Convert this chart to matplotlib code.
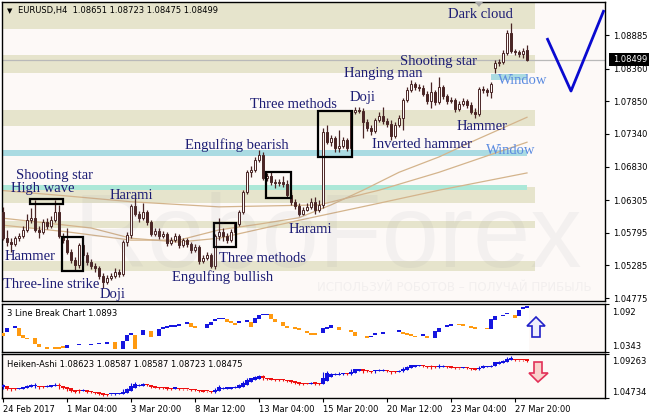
import matplotlib
matplotlib.use("Agg")
import matplotlib.pyplot as plt
from matplotlib.patches import Rectangle, Polygon
import numpy as np

# ---------------- data ----------------
bar_open = [1.0612, 1.0571, 1.0565, 1.0562, 1.0571, 1.0574, 1.0584, 1.0599, 1.0603, 1.0584,
            1.0581, 1.0596, 1.0590, 1.0599, 1.0612, 1.0574, 1.0568, 1.0549, 1.0537, 1.0529,
            1.0560, 1.0545, 1.0534, 1.0528, 1.0524, 1.0512, 1.0503, 1.0509, 1.0512, 1.0518,
            1.0515, 1.0565, 1.0576, 1.0621, 1.0609, 1.0603, 1.0612, 1.0596, 1.0578, 1.0582,
            1.0574, 1.0578, 1.0564, 1.0568, 1.0574, 1.0560, 1.0568, 1.0562, 1.0553, 1.0557,
            1.0535, 1.0540, 1.0545, 1.0528, 1.0574, 1.0581, 1.0574, 1.0568, 1.0581, 1.0593,
            1.0612, 1.0643, 1.0674, 1.0678, 1.0693, 1.0701, 1.0665, 1.0668, 1.0659, 1.0657,
            1.0659, 1.0656, 1.0639, 1.0628, 1.0621, 1.0609, 1.0615, 1.0620, 1.0628, 1.0615,
            1.0623, 1.0737, 1.0721, 1.0728, 1.0712, 1.0715, 1.0724, 1.0712, 1.0768, 1.0771,
            1.0770, 1.0753, 1.0743, 1.0739, 1.0756, 1.0762, 1.0754, 1.0749, 1.0731, 1.0748,
            1.0759, 1.0787, 1.0803, 1.0812, 1.0807, 1.0806, 1.0796, 1.0785, 1.0799, 1.0784,
            1.0807, 1.0793, 1.0785, 1.0787, 1.0773, 1.0781, 1.0785, 1.0779, 1.0768, 1.0765,
            1.0804, 1.0803, 1.0799, 1.0837, 1.0845, 1.0846, 1.0860, 1.0892, 1.0864, 1.0862,
            1.0859, 1.08651]
bar_high = [1.0620, 1.0584, 1.0571, 1.0574, 1.0579, 1.0590, 1.0609, 1.0618, 1.0631, 1.0590,
            1.0601, 1.0603, 1.0606, 1.0631, 1.0623, 1.0579, 1.0587, 1.0554, 1.0542, 1.0564,
            1.0564, 1.0549, 1.0539, 1.0532, 1.0528, 1.0517, 1.0514, 1.0517, 1.0524, 1.0523,
            1.0568, 1.0581, 1.0624, 1.0642, 1.0614, 1.0626, 1.0615, 1.0599, 1.0587, 1.0587,
            1.0582, 1.0581, 1.0573, 1.0579, 1.0578, 1.0571, 1.0571, 1.0565, 1.0562, 1.0560,
            1.0545, 1.0549, 1.0548, 1.0578, 1.0603, 1.0587, 1.0579, 1.0585, 1.0596, 1.0615,
            1.0646, 1.0678, 1.0684, 1.0698, 1.0709, 1.0706, 1.0673, 1.0674, 1.0664, 1.0664,
            1.0668, 1.0662, 1.0643, 1.0632, 1.0626, 1.0620, 1.0626, 1.0634, 1.0635, 1.0631,
            1.0743, 1.0748, 1.0732, 1.0731, 1.0740, 1.0729, 1.0728, 1.0771, 1.0776, 1.0776,
            1.0774, 1.0757, 1.0748, 1.0759, 1.0768, 1.0776, 1.0759, 1.0756, 1.0753, 1.0764,
            1.0790, 1.0807, 1.0818, 1.0815, 1.0812, 1.0810, 1.0801, 1.0815, 1.0803, 1.0823,
            1.0810, 1.0796, 1.0792, 1.0790, 1.0785, 1.0790, 1.0789, 1.0784, 1.0774, 1.0807,
            1.0809, 1.0806, 1.0815, 1.0849, 1.0851, 1.0865, 1.0896, 1.0907, 1.0867, 1.0865,
            1.0868, 1.08723]
bar_low = [1.0568, 1.0559, 1.0549, 1.0559, 1.0567, 1.0571, 1.0581, 1.0595, 1.0581, 1.0571,
           1.0578, 1.0585, 1.0587, 1.0596, 1.0571, 1.0564, 1.0546, 1.0532, 1.0521, 1.0524,
           1.0542, 1.0529, 1.0523, 1.0518, 1.0507, 1.0493, 1.0499, 1.0506, 1.0509, 1.0510,
           1.0512, 1.0559, 1.0571, 1.0606, 1.0596, 1.0599, 1.0592, 1.0574, 1.0574, 1.0570,
           1.0571, 1.0559, 1.0560, 1.0565, 1.0556, 1.0557, 1.0557, 1.0548, 1.0549, 1.0531,
           1.0532, 1.0537, 1.0524, 1.0523, 1.0568, 1.0567, 1.0564, 1.0565, 1.0578, 1.0590,
           1.0609, 1.0640, 1.0667, 1.0674, 1.0690, 1.0662, 1.0660, 1.0654, 1.0649, 1.0653,
           1.0651, 1.0635, 1.0623, 1.0617, 1.0606, 1.0607, 1.0614, 1.0617, 1.0609, 1.0612,
           1.0618, 1.0718, 1.0715, 1.0706, 1.0706, 1.0712, 1.0707, 1.0709, 1.0765, 1.0767,
           1.0728, 1.0739, 1.0732, 1.0735, 1.0753, 1.0749, 1.0745, 1.0724, 1.0728, 1.0745,
           1.0740, 1.0784, 1.0799, 1.0803, 1.0801, 1.0793, 1.0781, 1.0774, 1.0779, 1.0781,
           1.0789, 1.0781, 1.0782, 1.0768, 1.0770, 1.0778, 1.0774, 1.0765, 1.0759, 1.0762,
           1.0798, 1.0793, 1.0790, 1.0829, 1.0840, 1.0843, 1.0857, 1.0860, 1.0857, 1.0854,
           1.0853, 1.08475]
bar_close = [1.0571, 1.0565, 1.0562, 1.0571, 1.0574, 1.0584, 1.0599, 1.0603, 1.0584, 1.0581,
             1.0596, 1.0590, 1.0599, 1.0612, 1.0574, 1.0568, 1.0549, 1.0537, 1.0529, 1.0560,
             1.0545, 1.0534, 1.0528, 1.0524, 1.0512, 1.0503, 1.0509, 1.0512, 1.0518, 1.0515,
             1.0565, 1.0576, 1.0621, 1.0609, 1.0603, 1.0612, 1.0596, 1.0578, 1.0582, 1.0574,
             1.0578, 1.0564, 1.0568, 1.0574, 1.0560, 1.0568, 1.0562, 1.0553, 1.0557, 1.0535,
             1.0540, 1.0545, 1.0528, 1.0574, 1.0581, 1.0574, 1.0568, 1.0581, 1.0593, 1.0612,
             1.0643, 1.0674, 1.0678, 1.0693, 1.0701, 1.0665, 1.0668, 1.0659, 1.0657, 1.0659,
             1.0656, 1.0639, 1.0628, 1.0621, 1.0609, 1.0615, 1.0620, 1.0628, 1.0615, 1.0623,
             1.0737, 1.0721, 1.0728, 1.0712, 1.0715, 1.0724, 1.0712, 1.0768, 1.0771, 1.0770,
             1.0753, 1.0743, 1.0739, 1.0756, 1.0762, 1.0754, 1.0749, 1.0731, 1.0748, 1.0759,
             1.0787, 1.0803, 1.0812, 1.0807, 1.0806, 1.0796, 1.0785, 1.0799, 1.0784, 1.0807,
             1.0793, 1.0785, 1.0787, 1.0773, 1.0781, 1.0785, 1.0779, 1.0768, 1.0765, 1.0804,
             1.0803, 1.0799, 1.0812, 1.0845, 1.0846, 1.0860, 1.0892, 1.0864, 1.0862, 1.0859,
             1.0864, 1.08499]

# moving averages, read at sample bars
ma_fast_bar = [-1, 16, 32, 44, 54, 64, 74, 82, 90, 99, 109, 118, 131]
ma_fast_val = [1.0592, 1.0581, 1.0568, 1.0568, 1.0584, 1.0593, 1.0603, 1.0623, 1.0646, 1.0674, 1.0698, 1.0724, 1.0760]
ma_mid_bar = [-1, 16, 32, 54, 79, 94, 109, 131]
ma_mid_val = [1.0646, 1.0637, 1.0628, 1.0620, 1.0623, 1.0646, 1.0674, 1.0721]
ma_slow_bar = [-1, 22, 32, 44, 54, 74, 92, 109, 131]
ma_slow_val = [1.0603, 1.0587, 1.0571, 1.0565, 1.0571, 1.0599, 1.0623, 1.0646, 1.0673]

# support / resistance zones (price ranges)
zone_beige = [(1.08979, 1.0945), (1.08291, 1.08573), (1.07463, 1.07713),
              (1.06260, 1.06510), (1.05870, 1.05979), (1.05198, 1.05354)]
zone_cyan = [(1.06995, 1.07088)]
zone_mint = [(1.06463, 1.06541)]
window_zone = (122, 131, 1.08182, 1.08276)

# forecast V line
forecast_bar = [136, 142, 150.25]
forecast_val = [1.08838, 1.0801, 1.09276]

price_ticks = [1.08885, 1.08360, 1.07850, 1.07340, 1.06830, 1.06305, 1.05795, 1.05285, 1.04775]
last_price = 1.08499

# 3 Line Break blocks: bar, open, close, up?
lb_bar = [0, 1, 3, 4, 5, 6, 8, 9, 11, 13, 14, 15, 16, 19, 22, 24, 26, 28, 30, 31,
          32, 33, 35, 37, 39, 40, 41, 42, 43, 44, 46, 47, 48, 51, 52, 53, 54, 55, 56, 57,
          58, 59, 61, 62, 63, 64, 65, 66, 67, 68, 70, 71, 73, 74, 76, 77, 78, 80, 81, 82,
          84, 87, 88, 91, 92, 93, 95, 99, 100, 101, 102, 103, 105, 106, 108, 109, 111, 112, 114, 115,
          117, 118, 121, 122, 123, 125, 126, 128, 129, 130, 131]
lb_open = [1.0569, 1.0581, 1.0644, 1.0632, 1.0544, 1.0506, 1.0506, 1.0444, 1.0393, 1.0393,
           1.0393, 1.0406, 1.0393, 1.0431, 1.0431, 1.0444, 1.0444, 1.0469, 1.0381, 1.0481,
           1.0556, 1.0544, 1.0544, 1.0594, 1.0531, 1.0632, 1.0644, 1.0657, 1.0657, 1.0669,
           1.0694, 1.0694, 1.0657, 1.0632, 1.0669, 1.0719, 1.0744, 1.0744, 1.0744, 1.0707,
           1.0682, 1.0694, 1.0719, 1.0707, 1.0694, 1.0744, 1.0795, 1.0795, 1.0795, 1.0744,
           1.0707, 1.0644, 1.0632, 1.0619, 1.0594, 1.0556, 1.0556, 1.0569, 1.0632, 1.0632,
           1.0644, 1.0606, 1.0581, 1.0531, 1.0531, 1.0556, 1.0569, 1.0581, 1.0581, 1.0556,
           1.0544, 1.0531, 1.0531, 1.0531, 1.0506, 1.0581, 1.0657, 1.0669, 1.0682, 1.0669,
           1.0644, 1.0632, 1.0632, 1.0619, 1.0732, 1.0782, 1.0807, 1.0782, 1.0770, 1.0870,
           1.0882]
lb_close = [1.0531, 1.0632, 1.0644, 1.0531, 1.0506, 1.0506, 1.0444, 1.0406, 1.0393, 1.0393,
            1.0393, 1.0406, 1.0431, 1.0431, 1.0431, 1.0444, 1.0469, 1.0381, 1.0481, 1.0544,
            1.0556, 1.0381, 1.0606, 1.0519, 1.0619, 1.0632, 1.0644, 1.0657, 1.0657, 1.0669,
            1.0694, 1.0644, 1.0632, 1.0682, 1.0707, 1.0732, 1.0744, 1.0744, 1.0707, 1.0694,
            1.0682, 1.0719, 1.0719, 1.0644, 1.0757, 1.0782, 1.0795, 1.0795, 1.0744, 1.0707,
            1.0657, 1.0644, 1.0632, 1.0619, 1.0569, 1.0556, 1.0556, 1.0632, 1.0632, 1.0669,
            1.0606, 1.0581, 1.0531, 1.0506, 1.0531, 1.0556, 1.0569, 1.0606, 1.0556, 1.0556,
            1.0544, 1.0531, 1.0556, 1.0506, 1.0594, 1.0632, 1.0657, 1.0669, 1.0669, 1.0669,
            1.0644, 1.0632, 1.0619, 1.0744, 1.0770, 1.0782, 1.0807, 1.0757, 1.0845, 1.0870,
            1.0882]
lb_up = [0, 1, 1, 0, 0, 0, 0, 0, 0, 0, 0, 0, 1, 1, 1, 1, 1, 0, 1, 1,
         1, 0, 1, 0, 1, 1, 1, 1, 1, 1, 1, 0, 0, 1, 1, 1, 1, 1, 0, 0,
         0, 1, 1, 0, 1, 1, 1, 1, 0, 0, 0, 0, 0, 0, 0, 0, 0, 1, 1, 1,
         0, 0, 0, 0, 1, 1, 1, 1, 0, 0, 0, 0, 1, 0, 1, 1, 1, 1, 0, 0,
         0, 0, 0, 1, 1, 1, 1, 0, 1, 1, 1]

date_labels = ["24 Feb 2017", "1 Mar 04:00", "3 Mar 20:00", "8 Mar 12:00", "13 Mar 04:00",
               "15 Mar 20:00", "20 Mar 12:00", "23 Mar 04:00", "27 Mar 20:00"]
date_bars = [0, 16, 32, 48, 64, 80, 96, 112, 128]

# ---------------- figure ----------------
W, H, DPI = 649, 419, 100
fig = plt.figure(figsize=(W / DPI, H / DPI), dpi=DPI)
fig.patch.set_facecolor("white")

def rect(x0, y0, x1, y1):
    return [x0 / W, 1 - y1 / H, (x1 - x0) / W, (y1 - y0) / H]

def px(x, y):
    return (x / W, 1 - y / H)

BG = "#fdf9f7"
CANDLE = "#4a2626"
LABEL = "#1c1c74"
WIN = "#5b8be0"
XLIM = (-0.25, 150.5)

ax1 = fig.add_axes(rect(2, 2, 605, 301))
ax2 = fig.add_axes(rect(2, 304, 605, 352))
ax3 = fig.add_axes(rect(2, 354, 605, 398))
for ax in (ax1, ax2, ax3):
    ax.set_facecolor(BG)
    ax.set_xlim(*XLIM)
    for s in ax.spines.values():
        s.set_color("black")
        s.set_linewidth(1.0)
    ax.set_xticks([])

# ---- main chart ----
ax1.set_ylim(1.04729, 1.09401)
for lo, hi in zone_beige:
    ax1.add_patch(Rectangle((XLIM[0], lo), 133 - XLIM[0], hi - lo, facecolor="#e6e4cc",
                            edgecolor="none", zorder=1))
for lo, hi in zone_cyan:
    ax1.add_patch(Rectangle((XLIM[0], lo), 131 - XLIM[0], hi - lo, facecolor="#aadbe2",
                            edgecolor="none", zorder=1.2))
for lo, hi in zone_mint:
    ax1.add_patch(Rectangle((XLIM[0], lo), 131 - XLIM[0], hi - lo, facecolor="#ace8d8",
                            edgecolor="none", zorder=1.2))
wb0, wb1, wlo, whi = window_zone
ax1.add_patch(Rectangle((wb0, wlo), wb1 - wb0, whi - wlo, facecolor="#aadbe2",
                        edgecolor="none", zorder=1.2))

ax1.axhline(last_price, color="#b9b9b9", lw=0.9, zorder=1.5)

ax1.plot(ma_fast_bar, ma_fast_val, color="#d4b48c", lw=0.9, zorder=2)
ax1.plot(ma_mid_bar, ma_mid_val, color="#d4b48c", lw=0.9, zorder=2)
ax1.plot(ma_slow_bar, ma_slow_val, color="#d4b48c", lw=0.9, zorder=2)

n = len(bar_close)
for i in range(n):
    o, h, l, c = bar_open[i], bar_high[i], bar_low[i], bar_close[i]
    ax1.vlines(i, l, h, color=CANDLE, lw=0.9, zorder=3)
    lo, hi = min(o, c), max(o, c)
    bull = c >= o
    ax1.add_patch(Rectangle((i - 0.3, lo), 0.6, max(hi - lo, 1.2e-5),
                            facecolor=BG if bull else CANDLE, edgecolor=CANDLE,
                            lw=0.7, zorder=4))

ax1.plot(forecast_bar, forecast_val, color="#0a0ad0", lw=2.0, zorder=5, solid_capstyle="butt")

# pattern boxes (bar range, price range)
boxes = [(6.75, 15.0, 1.0624, 1.0632), (14.75, 20.0, 1.0520, 1.0573),
         (52.75, 58.25, 1.0557, 1.0595), (65.75, 72.0, 1.0634, 1.0674),
         (78.75, 87.25, 1.0698, 1.0770)]
for b0, b1, p0, p1 in boxes:
    ax1.add_patch(Rectangle((b0, p0), b1 - b0, p1 - p0, facecolor="none",
                            edgecolor="black", lw=1.6, zorder=6))

ax1.yaxis.tick_right()
ax1.set_yticks(price_ticks)
ax1.set_yticklabels([f"{v:.5f}" for v in price_ticks])
ax1.tick_params(axis="y", direction="out", length=3, width=0.8, pad=2.5,
                labelsize=6, colors="black")

# watermark
ax1.text(0.54, 0.115, "RoboForex", transform=ax1.transAxes, fontsize=74,
         family="Liberation Sans", color="#7a7a90", alpha=0.07, ha="center",
         va="baseline", zorder=7)
fig.text(*px(454, 287), "ИСПОЛЬЗУЙ РОБОТОВ – ПОЛУЧАЙ ПРИБЫЛЬ", fontsize=8.6,
         family="DejaVu Sans", color="#7a7a90", alpha=0.08, ha="center", va="center")

# header
fig.text(*px(7, 11), "▼", fontsize=5, color="black", va="center", family="DejaVu Sans")
fig.text(*px(18, 11), "EURUSD,H4  1.08651 1.08723 1.08475 1.08499", fontsize=6,
         color="black", va="center", family="DejaVu Sans")
fig.patches.append(Polygon([px(475, 2), px(483, 2), px(479, 7)], closed=True,
                           transform=fig.transFigure, facecolor="#a8a8a8",
                           edgecolor="none"))

# pattern labels
labels = [("Dark cloud", 448, 15, LABEL), ("Shooting star", 400, 61, LABEL),
          ("Hanging man", 344, 73, LABEL), ("Doji", 350, 97, LABEL),
          ("Three methods", 250, 104, LABEL), ("Window", 498, 81, WIN),
          ("Hammer", 457, 127, LABEL), ("Inverted hammer", 372, 145, LABEL),
          ("Window", 486, 150, WIN), ("Engulfing bearish", 185, 145, LABEL),
          ("Shooting star", 16, 175, LABEL), ("High wave", 11, 188, LABEL),
          ("Harami", 110, 195, LABEL), ("Harami", 289, 229, LABEL),
          ("Hammer", 5, 257, LABEL), ("Three methods", 219, 259, LABEL),
          ("Engulfing bullish", 172, 277, LABEL), ("Three-line strike", 3, 284, LABEL),
          ("Doji", 100, 294, LABEL)]
for s, x, y, col in labels:
    fig.text(*px(x, y), s, fontsize=10.5, family="Liberation Serif", color=col,
             ha="left", va="center", zorder=10)

# current price box
fig.patches.append(Rectangle(px(609, 66), 40 / W, 13 / H, transform=fig.transFigure,
                             facecolor="black", edgecolor="none"))
fig.text(*px(613, 59.5), "1.08499", fontsize=6, color="white", va="center",
         family="DejaVu Sans")

# ---- 3 Line Break panel ----
ax2.set_ylim(1.0343, 1.092)
ax2.add_patch(Rectangle((XLIM[0], 1.0343), 131.6 - XLIM[0], 1.092 - 1.0343,
                        facecolor="white", edgecolor="none", zorder=0.5))
minh2 = 0.0019
for b, o, c, up in zip(lb_bar, lb_open, lb_close, lb_up):
    lo, hi = min(o, c), max(o, c)
    if hi - lo < minh2:
        mid = (lo + hi) / 2
        lo, hi = mid - minh2 / 2, mid + minh2 / 2
    ax2.add_patch(Rectangle((b - 0.45, lo), 0.9, hi - lo,
                            facecolor="#1616e0" if up else "#ff9a10",
                            edgecolor="none", zorder=3))
ax2.yaxis.tick_right()
ax2.set_yticks([1.0343, 1.092])
ax2.set_yticklabels([])
ax2.tick_params(axis="y", direction="out", length=3, width=0.8)
fig.text(*px(7, 313), "3 Line Break Chart 1.0893", fontsize=6, va="center",
         family="DejaVu Sans")
fig.text(*px(612, 312), "1.092", fontsize=6, va="center", family="DejaVu Sans")
fig.text(*px(612, 346), "1.0343", fontsize=6, va="center", family="DejaVu Sans")
up_arrow = [(536, 317), (545, 326), (540, 326), (540, 337), (532, 337), (532, 326), (527, 326)]
fig.patches.append(Polygon([px(x, y) for x, y in up_arrow], closed=True,
                           transform=fig.transFigure, facecolor="#eeeefc",
                           edgecolor="#2020c8", lw=1.2))

# ---- Heiken-Ashi panel ----
o = np.array(bar_open); h = np.array(bar_high); l = np.array(bar_low); c = np.array(bar_close)
ha_c = (o + h + l + c) / 4
ha_o = np.empty(n)
ha_o[0] = (o[0] + c[0]) / 2
for i in range(1, n):
    ha_o[i] = (ha_o[i - 1] + ha_c[i - 1]) / 2
ha_h = np.maximum(h, np.maximum(ha_o, ha_c))
ha_l = np.minimum(l, np.minimum(ha_o, ha_c))
ax3.set_ylim(1.04734, 1.09263)
for i in range(n):
    col = "#1010e0" if ha_c[i] >= ha_o[i] else "#ee1010"
    ax3.vlines(i, ha_l[i], ha_h[i], color=col, lw=0.8, zorder=3)
    lo, hi = min(ha_o[i], ha_c[i]), max(ha_o[i], ha_c[i])
    ax3.add_patch(Rectangle((i - 0.4, lo), 0.8, max(hi - lo, 0.0012),
                            facecolor=col, edgecolor="none", zorder=4))
ax3.yaxis.tick_right()
ax3.set_yticks([1.04734, 1.09263])
ax3.set_yticklabels([])
ax3.tick_params(axis="y", direction="out", length=3, width=0.8)
ax3.set_xticks(date_bars)
ax3.set_xticklabels(date_labels, ha="left")
ax3.tick_params(axis="x", direction="out", length=3, width=0.8, pad=2,
                labelsize=6)
for t in ax3.get_xticklabels():
    t.set_family("DejaVu Sans")
fig.text(*px(7, 364), "Heiken-Ashi 1.08623 1.08587 1.08587 1.08723 1.08475", fontsize=6,
         va="center", family="DejaVu Sans")
fig.text(*px(612, 362), "1.09263", fontsize=6, va="center", family="DejaVu Sans")
fig.text(*px(612, 392), "1.04734", fontsize=6, va="center", family="DejaVu Sans")
dn_arrow = [(534, 362), (542, 362), (542, 373), (548, 373), (538, 382), (529, 373), (534, 373)]
fig.patches.append(Polygon([px(x, y) for x, y in dn_arrow], closed=True,
                           transform=fig.transFigure, facecolor="#f9d2cc",
                           edgecolor="#e23058", lw=1.2))

fig.savefig("out.png", dpi=DPI, facecolor="white")
